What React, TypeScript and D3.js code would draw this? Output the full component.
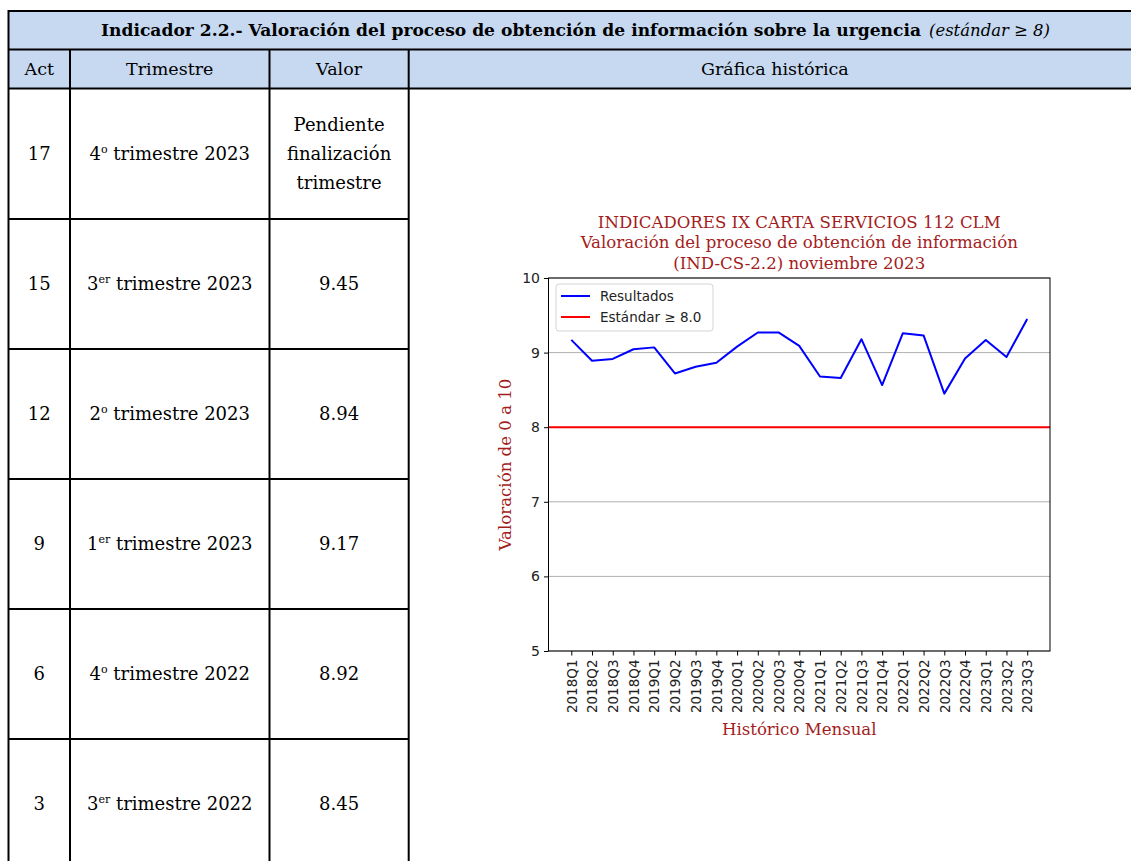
import { useRef, useEffect } from 'react'
import * as d3 from 'd3'

// tabla de la izquierda
const acts = ['17', '15', '12', '9', '6', '3']
const quarterNum = ['4', '3', '2', '1', '4', '3']
const quarterSup = ['o', 'er', 'o', 'er', 'o', 'er']
const quarterYear = ['2023', '2023', '2023', '2023', '2022', '2022']
const tableValues = [['Pendiente', 'finalización', 'trimestre'], ['9.45'], ['8.94'], ['9.17'], ['8.92'], ['8.45']]

// gráfica histórica
const quarters = [
  '2018Q1', '2018Q2', '2018Q3', '2018Q4', '2019Q1', '2019Q2', '2019Q3', '2019Q4',
  '2020Q1', '2020Q2', '2020Q3', '2020Q4', '2021Q1', '2021Q2', '2021Q3', '2021Q4',
  '2022Q1', '2022Q2', '2022Q3', '2022Q4', '2023Q1', '2023Q2', '2023Q3',
]
const resultados = [
  9.17, 8.89, 8.915, 9.045, 9.07, 8.72, 8.81, 8.865,
  9.08, 9.27, 9.27, 9.09, 8.68, 8.66, 9.18, 8.565,
  9.26, 9.23, 8.45, 8.92, 9.17, 8.94, 9.45,
]
const estandar = 8.0
const yTicks = [5, 6, 7, 8, 9, 10]
const titleLines = [
  'INDICADORES IX CARTA SERVICIOS 112 CLM',
  'Valoración del proceso de obtención de información',
  '(IND-CS-2.2) noviembre 2023',
]

const W = 1131
const H = 861
const plot = { left: 548.5, right: 1050, top: 278, bottom: 651 }
const serif = 'DejaVu Serif'
const sans = 'DejaVu Sans'
const red = '#a31d1d'

// tabla
const tLeft = 8.5
const tTop = 11
const hMid = 49.5
const hBottom = 88.5
const colX = [tLeft, 70, 269.5, 408.7]
const rowY = [88.5, 219, 349, 479, 609, 739, 869]

export default function App() {
  const chartRef = useRef<SVGGElement>(null)

  useEffect(() => {
    const g = d3.select(chartRef.current)
    g.selectAll('*').remove()

    const x = d3.scalePoint<string>().domain(quarters).range([plot.left, plot.right]).padding(1.1)
    const y = d3.scaleLinear().domain([5, 10]).range([plot.bottom, plot.top])

    // grid
    g.append('g')
      .selectAll('line')
      .data(yTicks)
      .join('line')
      .attr('x1', plot.left)
      .attr('x2', plot.right)
      .attr('y1', d => y(d))
      .attr('y2', d => y(d))
      .attr('stroke', '#b0b0b0')
      .attr('stroke-width', 1)

    // estándar
    g.append('line')
      .attr('x1', plot.left)
      .attr('x2', plot.right)
      .attr('y1', y(estandar))
      .attr('y2', y(estandar))
      .attr('stroke', '#ff0000')
      .attr('stroke-width', 2)

    const myLine = d3.line<number>()
      .x((v, i) => x(quarters[i]) as number)
      .y(v => y(v))

    g.append('path')
      .datum(resultados)
      .attr('d', myLine)
      .attr('fill', 'none')
      .attr('stroke', '#0000ff')
      .attr('stroke-width', 2)
      .attr('stroke-linejoin', 'round')

    // marco
    g.append('rect')
      .attr('x', plot.left)
      .attr('y', plot.top)
      .attr('width', plot.right - plot.left)
      .attr('height', plot.bottom - plot.top)
      .attr('fill', 'none')
      .attr('stroke', '#000')
      .attr('stroke-width', 1)

    const xAxis = d3.axisBottom(x).tickSizeOuter(0).tickSize(4.5)
    const xg = g.append('g').attr('transform', `translate(0,${plot.bottom})`).call(xAxis)
    xg.select('.domain').remove()
    xg.selectAll('text')
      .attr('transform', 'rotate(-90)')
      .attr('text-anchor', 'end')
      .attr('x', -8.5)
      .attr('y', 0)
      .attr('dy', '0.35em')
      .attr('font-size', 13.5)
      .attr('font-family', sans)
      .attr('fill', '#222')

    const yAxis = d3.axisLeft(y).tickValues(yTicks).tickFormat(d3.format('d')).tickSizeOuter(0).tickSize(4.5).tickPadding(4)
    const yg = g.append('g').attr('transform', `translate(${plot.left},0)`).call(yAxis)
    yg.select('.domain').remove()
    yg.selectAll('text')
      .attr('font-size', 14)
      .attr('font-family', sans)
      .attr('fill', '#222')

    // títulos
    g.append('g')
      .selectAll('text')
      .data(titleLines)
      .join('text')
      .attr('x', (plot.left + plot.right) / 2)
      .attr('y', (d, i) => 227.5 + i * 20.5)
      .attr('text-anchor', 'middle')
      .attr('font-family', serif)
      .attr('font-size', 16.6)
      .attr('fill', red)
      .text(d => d)

    g.append('text')
      .attr('transform', `translate(505,${(plot.top + plot.bottom) / 2}) rotate(-90)`)
      .attr('text-anchor', 'middle')
      .attr('dy', '0.35em')
      .attr('font-family', serif)
      .attr('font-size', 16.6)
      .attr('fill', red)
      .text('Valoración de 0 a 10')

    g.append('text')
      .attr('x', (plot.left + plot.right) / 2)
      .attr('y', 735)
      .attr('text-anchor', 'middle')
      .attr('font-family', serif)
      .attr('font-size', 16.6)
      .attr('fill', red)
      .text('Histórico Mensual')

    // leyenda
    const lg = g.append('g')
    lg.append('rect')
      .attr('x', 556).attr('y', 284).attr('width', 157).attr('height', 47).attr('rx', 3)
      .attr('fill', '#fff').attr('fill-opacity', 0.8).attr('stroke', '#d5d5d5')
    const items = [{ label: 'Resultados', color: '#0000ff' }, { label: 'Estándar ≥ 8.0', color: '#ff0000' }]
    items.forEach((it, i) => {
      const cy = 296 + i * 21
      lg.append('line').attr('x1', 561).attr('x2', 590).attr('y1', cy).attr('y2', cy)
        .attr('stroke', it.color).attr('stroke-width', 2)
      lg.append('text').attr('x', 600).attr('y', cy).attr('dy', '0.35em')
        .attr('font-family', sans).attr('font-size', 13.5).attr('fill', '#222').text(it.label)
    })
  }, [])

  const colCenter = (c: number) => (colX[c] + colX[c + 1]) / 2

  return (
    <div style={{ position: 'absolute', left: 0, top: 0 }}>
      <svg width={W} height={H} style={{ display: 'block', background: '#fff' }}>
        {/* cabecera */}
        <rect x={tLeft} y={tTop} width={W - tLeft} height={hBottom - tTop} fill="#c6d9f1" />
        <text y={36} fontFamily={serif} fontSize={17} fill="#000">
          <tspan x={101} fontWeight="bold" textLength={820} lengthAdjust="spacingAndGlyphs">
            Indicador 2.2.- Valoración del proceso de obtención de información sobre la urgencia
          </tspan>
          <tspan x={929} fontStyle="italic" textLength={121} lengthAdjust="spacingAndGlyphs">
            (estándar ≥ 8)
          </tspan>
        </text>
        <g fontFamily={serif} fontSize={17.5} textAnchor="middle">
          <text x={colCenter(0)} y={75}>Act</text>
          <text x={colCenter(1)} y={75}>Trimestre</text>
          <text x={colCenter(2)} y={75}>Valor</text>
          <text x={(colX[3] + W) / 2 + 5} y={75}>Gráfica histórica</text>
        </g>

        {/* filas */}
        <g fontFamily={serif} fontSize={18} textAnchor="middle" fill="#000">
          {acts.map((a, i) => {
            const cy = (rowY[i] + rowY[i + 1]) / 2
            const vals = tableValues[i]
            return (
              <g key={a}>
                <text x={colCenter(0)} y={cy + 6}>{a}</text>
                <text x={colCenter(1)} y={cy + 6}>
                  {quarterNum[i]}
                  <tspan fontSize={11} dy={-7}>{quarterSup[i]}</tspan>
                  <tspan dy={7}>{' trimestre ' + quarterYear[i]}</tspan>
                </text>
                {vals.map((v, j) => (
                  <text key={j} x={colCenter(2)} y={cy + 6 + (j - (vals.length - 1) / 2) * 29}>{v}</text>
                ))}
              </g>
            )
          })}
        </g>

        {/* bordes */}
        <g stroke="#000" strokeWidth={2}>
          <line x1={tLeft} x2={W} y1={tTop} y2={tTop} />
          <line x1={tLeft} x2={W} y1={hMid} y2={hMid} />
          <line x1={tLeft} x2={W} y1={hBottom} y2={hBottom} />
          <line x1={tLeft} x2={tLeft} y1={tTop - 1} y2={H} />
          {colX.slice(1).map(cx => (
            <line key={cx} x1={cx} x2={cx} y1={hMid} y2={H} />
          ))}
          {rowY.slice(1, -1).map(ry => (
            <line key={ry} x1={tLeft} x2={colX[3]} y1={ry} y2={ry} />
          ))}
        </g>

        <g ref={chartRef} />
      </svg>
    </div>
  )
}
